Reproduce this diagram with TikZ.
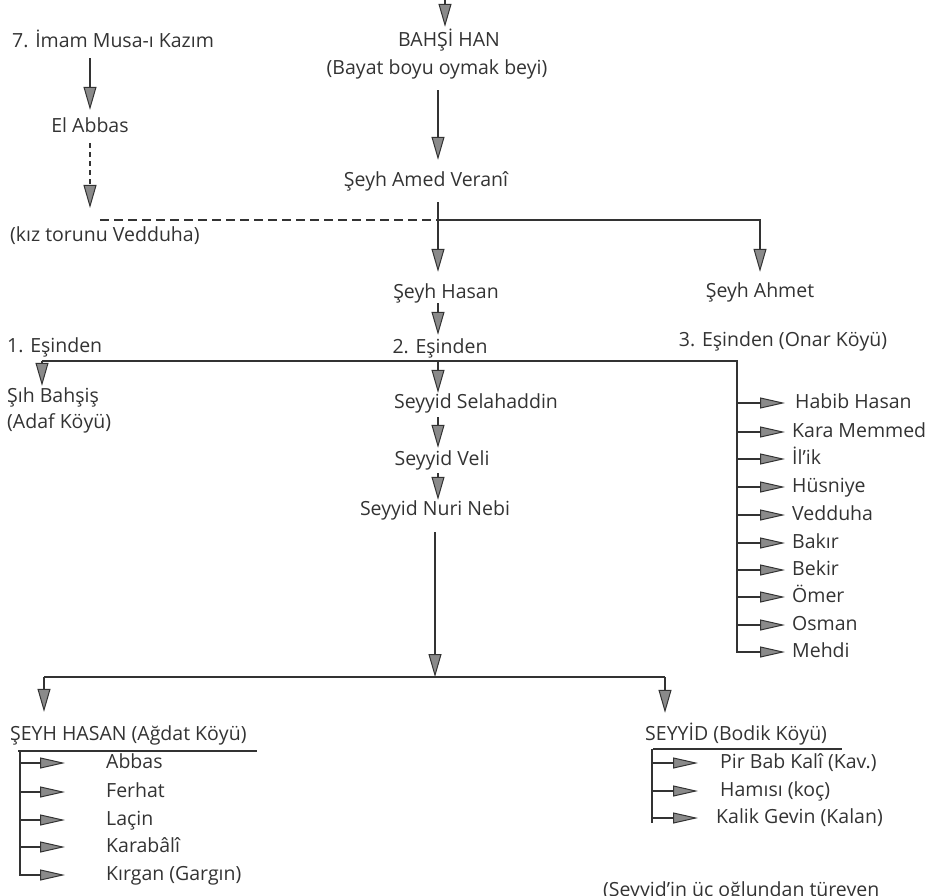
\documentclass[tikz,border=0pt]{standalone}
\usepackage{fontspec}
\setmainfont{Open Sans}
\usetikzlibrary{arrows.meta}
\definecolor{ink}{HTML}{333333}
\definecolor{tipfill}{HTML}{8A8A8A}
\tikzset{
  lbl/.style={inner sep=0pt, text height=15pt, text depth=5pt, text=ink,
              font=\fontsize{19.5}{23}\selectfont},
  lnk/.style={draw=ink, line width=1.2pt},
  varr/.style={lnk, -{Triangle[length=23pt,width=13pt,fill=tipfill,line width=1pt]}},
  harr/.style={lnk, -{Triangle[length=25pt,width=11pt,fill=tipfill,line width=1pt]}},
}
\begin{document}
\begin{tikzpicture}[x=1pt,y=-1pt]
\useasboundingbox (0,0) rectangle (929,896);
\clip (0,0) rectangle (929,896);
% ---------- nodes ----------
\node[lbl] (bahsi) at (449,42) {BAHŞİ HAN};
\node[lbl] (bayat) at (437,70) {(Bayat boyu oymak beyi)};
\node[lbl] (amed) at (426,182) {Şeyh Amed Veranî};
\node[lbl,anchor=west] (imam) at (12,43) {7. İmam Musa-ı Kazım};
\node[lbl] (abbas) at (90,128) {El Abbas};
\node[lbl,anchor=west] (kiz) at (10,237) {(kız torunu Vedduha)};
\node[lbl] (shasan) at (446,293) {Şeyh Hasan};
\node[lbl] (sahmet) at (760,292) {Şeyh Ahmet};
\node[lbl,anchor=west] (es1) at (7,347) {1. Eşinden};
\node[lbl] (es2) at (440,348) {2. Eşinden};
\node[lbl] (es3) at (783,341) {3. Eşinden (Onar Köyü)};
\node[lbl,anchor=west] (sbahsis) at (7,397) {Şıh Bahşiş};
\node[lbl,anchor=west] (adaf) at (7,423) {(Adaf Köyü)};
\node[lbl] (selah) at (476,403) {Seyyid Selahaddin};
\node[lbl] (veli) at (442,460) {Seyyid Veli};
\node[lbl] (nuri) at (435,510) {Seyyid Nuri Nebi};
% 3. esinden list
\node[lbl,anchor=west] (r1) at (795,403) {Habib Hasan};
\node[lbl,anchor=west] (r2) at (792,432) {Kara Memmed};
\node[lbl,anchor=west] (r3) at (792,459) {İl’ik};
\node[lbl,anchor=west] (r4) at (792,487) {Hüsniye};
\node[lbl,anchor=west] (r5) at (792,515) {Vedduha};
\node[lbl,anchor=west] (r6) at (792,543) {Bakır};
\node[lbl,anchor=west] (r7) at (792,570) {Bekir};
\node[lbl,anchor=west] (r8) at (792,597) {Ömer};
\node[lbl,anchor=west] (r9) at (792,625) {Osman};
\node[lbl,anchor=west] (r10) at (792,652) {Mehdi};
% bottom headings
\node[lbl,anchor=west] (hasan2) at (10,735) {ŞEYH HASAN (Ağdat Köyü)};
\node[lbl,anchor=west] (seyyid) at (645,735) {SEYYİD (Bodik Köyü)};
\node[lbl,anchor=west] (l1) at (106,763) {Abbas};
\node[lbl,anchor=west] (l2) at (106,792) {Ferhat};
\node[lbl,anchor=west] (l3) at (106,820) {Laçin};
\node[lbl,anchor=west] (l4) at (106,847) {Karabâlî};
\node[lbl,anchor=west] (l5) at (106,875) {Kırgan (Gargın)};
\node[lbl,anchor=west] (s1) at (720,763) {Pir Bab Kalî (Kav.)};
\node[lbl,anchor=west] (s2) at (720,791) {Hamısı (koç)};
\node[lbl,anchor=west] (s3) at (716,818) {Kalik Gevin (Kalan)};
\node[lbl,anchor=base west] (note) at (603,896) {(Seyyid’in üç oğlundan türeyen};
% ---------- coordinates ----------
\coordinate (topin) at (445,0);
\coordinate (cx) at (438,0);
\coordinate (dashL) at (100,220);
\coordinate (amedJ) at (438,220);
\coordinate (esL) at (42,361);
\coordinate (esR) at (737,361);
\coordinate (esB) at (737,653);
\coordinate (bL) at (44,677);
\coordinate (bR) at (665,677);
\coordinate (uL) at (18,751);
\coordinate (uR) at (257,751);
\coordinate (vLb) at (20,876);
\coordinate (uL2) at (653,749);
\coordinate (uR2) at (842,749);
\coordinate (vRb) at (652,823);
% ---------- connectors ----------
\draw[varr, shorten >=5pt] (topin) -- (topin |- bahsi.north);
\draw[varr, shorten <=10pt, shorten >=12pt] (cx |- bayat.south) -- (cx |- amed.north);
\draw[varr, shorten <=5pt, shorten >=8pt] (abbas.north |- imam.south) -- (abbas.north);
\draw[varr, dashed, dash pattern=on 5pt off 4pt, shorten <=5pt, shorten >=12pt] (abbas.south) -- (abbas.south |- dashL);
\draw[lnk, dashed, dash pattern=on 9pt off 5pt] (dashL) -- (amedJ);
\draw[varr, shorten >=10pt] (amedJ) -| (sahmet.north);
\draw[varr, shorten <=10pt, shorten >=11pt] (cx |- amed.south) -- (cx |- shasan.north);
\draw[varr, shorten >=3pt] (cx |- shasan.south) -- (cx |- es2.north);
\draw[lnk] (esL) -- (esR) -- (esB);
\draw[varr, shorten >=1pt] (esL) -- (esL |- sbahsis.north);
\draw[varr] (cx |- esL) -- (cx |- selah.north);
\draw[varr, shorten <=4pt, shorten >=2pt] (cx |- selah.south) -- (cx |- veli.north);
\draw[varr, shorten <=3pt] (cx |- veli.south) -- (cx |- nuri.north);
\draw[varr, shorten <=12pt] (nuri.south) -- (nuri.south |- bL);
\draw[lnk] (bL) -- (bR);
\draw[varr, shorten >=13pt] (bL) -- (bL |- hasan2.north);
\draw[varr, shorten >=12pt] (bR) -- (bR |- seyyid.north);
\draw[lnk] (uL) -- (uR);
\draw[lnk] (uL -| vLb) -- (vLb);
\draw[lnk] (uL2) -- (uR2);
\draw[lnk] (uL2 -| vRb) -- (vRb);
% 3. esinden arrows
\foreach \n/\s in {r1/10,r2/7,r3/7,r4/7,r5/7,r6/7,r7/7,r8/7,r9/7,r10/7}
  \draw[harr, shorten >=\s pt] (esR |- \n.west) -- (\n.west);
\foreach \n in {l1,l2,l3,l4,l5}
  \draw[harr, shorten >=41pt] (vLb |- \n.west) -- (\n.west);
\foreach \n/\s in {s1/22,s2/22,s3/18}
  \draw[harr, shorten >=\s pt] (vRb |- \n.west) -- (\n.west);
\end{tikzpicture}
\end{document}
